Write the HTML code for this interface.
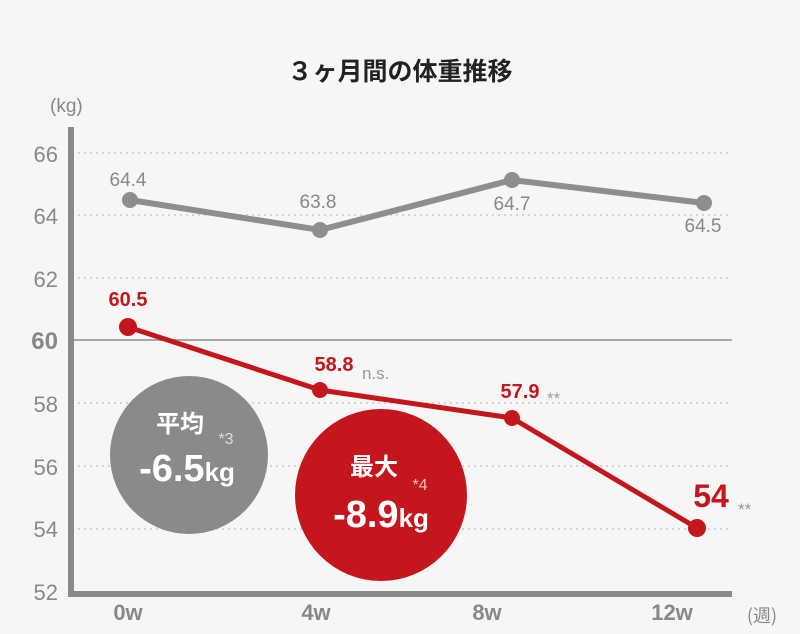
<!DOCTYPE html>
<html><head><meta charset="utf-8"><style>
html,body{margin:0;padding:0;background:#f6f6f6;}
svg{display:block;font-family:"Liberation Sans","Noto Sans CJK JP",sans-serif;}
</style></head><body>
<svg width="800" height="634" viewBox="0 0 800 634" xmlns="http://www.w3.org/2000/svg">
<rect width="800" height="634" fill="#f6f6f6"/>
<text x="400" y="80" text-anchor="middle" font-size="25" font-weight="bold" fill="#222" font-family="'Noto Sans CJK JP',sans-serif">３ヶ月間の体重推移</text>
<text x="50" y="112" font-size="19" fill="#888">(kg)</text>
<g stroke="#c8c8c8" stroke-width="1.5" stroke-dasharray="2,4">
<line x1="78" y1="153" x2="732" y2="153"/>
<line x1="78" y1="215" x2="732" y2="215"/>
<line x1="78" y1="278" x2="732" y2="278"/>
<line x1="78" y1="403" x2="732" y2="403"/>
<line x1="78" y1="466" x2="732" y2="466"/>
<line x1="78" y1="529" x2="732" y2="529"/>
</g>
<line x1="74" y1="340" x2="732" y2="340" stroke="#a8a8a8" stroke-width="2"/>
<line x1="71" y1="127" x2="71" y2="597" stroke="#8a8a8a" stroke-width="6"/>
<line x1="68" y1="594" x2="732" y2="594" stroke="#8a8a8a" stroke-width="6"/>
<g font-size="22" fill="#888" text-anchor="end">
<text x="58" y="162">66</text><text x="58" y="224">64</text><text x="58" y="287">62</text>
<text x="58" y="349" font-weight="bold" font-size="24">60</text>
<text x="58" y="412">58</text><text x="58" y="475">56</text><text x="58" y="537">54</text><text x="58" y="600">52</text>
</g>
<g font-size="22" fill="#888" text-anchor="middle" font-weight="bold">
<text x="128" y="620">0w</text><text x="316" y="620">4w</text><text x="487" y="620">8w</text><text x="672" y="620">12w</text>
</g>
<text x="762" y="622" text-anchor="middle" font-size="18" fill="#888" font-family="'Noto Sans CJK JP',sans-serif">(週)</text>
<circle cx="189" cy="455" r="79" fill="#8a8a8a"/>
<circle cx="381" cy="495" r="86" fill="#c4161c"/>
<polyline points="130,200 320,230 512,180 704,203" fill="none" stroke="#8e8e8e" stroke-width="6"/>
<g fill="#8e8e8e"><circle cx="130" cy="200" r="8"/><circle cx="320" cy="230" r="8"/><circle cx="512" cy="180" r="8"/><circle cx="704" cy="203" r="8"/></g>
<g font-size="19" fill="#888" text-anchor="middle">
<text x="128" y="186">64.4</text><text x="318" y="208">63.8</text><text x="512" y="210">64.7</text><text x="703" y="232">64.5</text>
</g>
<polyline points="128,327 320,390 512,418 697,528" fill="none" stroke="#c4161c" stroke-width="5"/>
<g fill="#c4161c"><circle cx="128" cy="327" r="9"/><circle cx="320" cy="390" r="8"/><circle cx="512" cy="418" r="8"/><circle cx="697" cy="528" r="9"/></g>
<g fill="#c4161c" font-weight="bold">
<text x="128" y="306" font-size="20" text-anchor="middle">60.5</text>
<text x="334" y="371" font-size="20" text-anchor="middle">58.8</text>
<text x="520" y="398" font-size="20" text-anchor="middle">57.9</text>
<text x="711" y="507" font-size="32" text-anchor="middle">54</text>
</g>
<g fill="#999" font-size="17">
<text x="362" y="379">n.s.</text>
<text x="547" y="404">**</text>
<text x="738" y="515">**</text>
</g>
<g fill="#fff" text-anchor="middle">
<text x="180" y="432" font-size="24" font-weight="bold" font-family="'Noto Sans CJK JP',sans-serif">平均</text>
<text x="226" y="444" font-size="16" fill="#ddd">*3</text>
<text x="187" y="481" font-size="38" font-weight="bold">-6.5<tspan font-size="26">kg</tspan></text>
<text x="374" y="475" font-size="24" font-weight="bold" font-family="'Noto Sans CJK JP',sans-serif">最大</text>
<text x="420" y="490" font-size="16" fill="#f0c0c0">*4</text>
<text x="381" y="527" font-size="38" font-weight="bold">-8.9<tspan font-size="26">kg</tspan></text>
</g>
</svg>
</body></html>
